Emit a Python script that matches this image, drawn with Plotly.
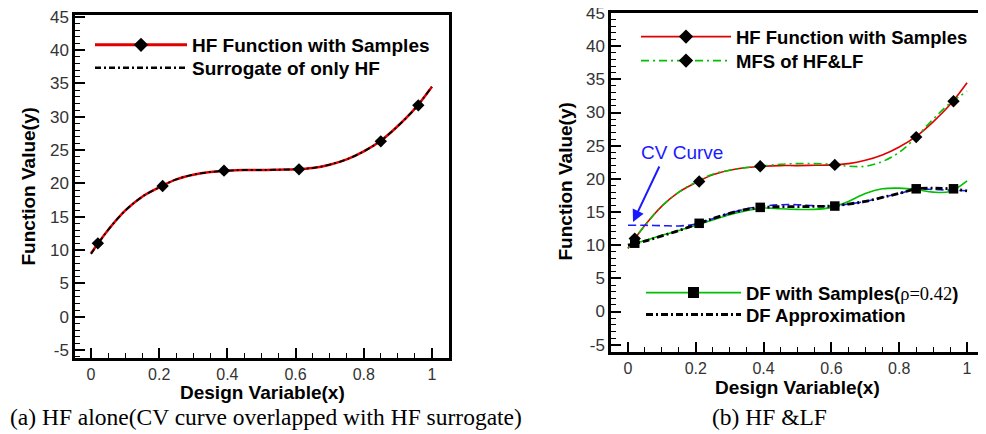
import plotly.graph_objects as go

# ---------------- data ----------------
x_curve = [0, 0.05, 0.1, 0.15, 0.2, 0.25, 0.3, 0.35, 0.4, 0.45, 0.5, 0.55, 0.6,
           0.65, 0.7, 0.75, 0.8, 0.85, 0.9, 0.95, 1.0]
hf_curve = [9.5, 13.0, 15.9, 18.0, 19.4, 20.6, 21.3, 21.7, 21.9, 22.0, 22.0, 22.05, 22.1,
            22.3, 22.8, 23.6, 24.8, 26.4, 28.6, 31.2, 34.5]
hf_surrogate = [9.4, 13.0, 15.9, 18.0, 19.4, 20.6, 21.3, 21.7, 21.9, 22.0, 22.0, 22.05, 22.1,
                22.3, 22.8, 23.6, 24.8, 26.4, 28.6, 31.2, 34.5]
mfs_curve = [9.6, 13.0, 15.9, 18.0, 19.5, 20.7, 21.3, 21.7, 21.95, 22.2, 22.3, 22.3, 22.2,
             21.9, 21.9, 22.6, 24.0, 26.3, 29.0, 31.4, 33.2]
df_curve = [10.0, 10.7, 11.5, 12.2, 13.0, 13.8, 14.6, 15.2, 15.6, 15.5, 15.4, 15.4, 15.7,
            16.6, 17.8, 18.5, 18.6, 18.4, 18.0, 18.1, 19.7]
df_approx = [10.0, 10.6, 11.4, 12.2, 13.1, 14.0, 14.8, 15.4, 15.7, 15.8, 15.8, 15.85, 15.9,
             16.2, 16.6, 17.2, 17.8, 18.5, 18.6, 18.5, 18.2]
cv_curve = [13.0, 13.0, 12.95, 12.9, 13.2, 14.0, 14.8, 15.5, 15.9, 16.1, 16.1, 15.95, 15.9,
            16.2, 16.6, 17.2, 17.8, 18.4, 18.4, 18.3, 18.2]

x_samples = [0.02, 0.21, 0.39, 0.61, 0.85, 0.96]
hf_samples = [11.0, 19.6, 21.9, 22.1, 26.3, 31.7]
df_samples = [10.3, 13.3, 15.7, 15.9, 18.5, 18.5]

x_ticks = [0, 0.2, 0.4, 0.6, 0.8, 1]
x_ticktext = ["0", "0.2", "0.4", "0.6", "0.8", "1"]
y_ticks = [-5, 0, 5, 10, 15, 20, 25, 30, 35, 40, 45]
y_ticktext = ["-5", "0", "5", "10", "15", "20", "25", "30", "35", "40", "45"]

# ---------------- styles ----------------
SANS = "Liberation Sans, Arial, sans-serif"
SERIF = "Liberation Serif, Times New Roman, serif"
RED = "#e00000"
GREEN = "#00c000"
BLUE = "#1a1aff"
DASHDOT = "6px,3px,2px,3px"
GDASHDOT = "8px,4px,2px,4px"
KDASHDOT = "7px,3px,2px,3px"

# page offset (body margin) compensation
OFF = 8
W, H = 986 - OFF, 434 - OFF
def px_x(p):
    return (p - OFF) / W
def px_y(p):
    return 1 - (p - OFF) / H

fig = go.Figure()

def add(x, y, xa, ya, name=None, legend=None, **kw):
    fig.add_trace(go.Scatter(x=x, y=y, xaxis=xa, yaxis=ya, name=name,
                             showlegend=legend is not None,
                             legend=legend if legend else "legend", **kw))

diamond = dict(symbol="diamond", size=9.5, color="black")
square = dict(symbol="square", size=9.5, color="black")
diamond_leg = dict(symbol="diamond", size=11, color="black")
square_leg = dict(symbol="square", size=11, color="black")

# ---- left panel ----
add(x_curve, hf_curve, "x", "y", mode="lines", line=dict(color=RED, width=2.5, shape="spline"))
add(x_curve, hf_surrogate, "x", "y", mode="lines",
    line=dict(color="black", width=1.8, dash=DASHDOT, shape="spline"))
add(x_samples, hf_samples, "x", "y", mode="markers", marker=diamond)
add([None], [None], "x", "y", name="<b>HF Function with Samples</b>", legend="legend",
    mode="lines+markers", line=dict(color=RED, width=3), marker=diamond_leg)
add([None], [None], "x", "y", name="<b>Surrogate of only HF</b>", legend="legend2",
    mode="lines", line=dict(color="black", width=2.5, dash=DASHDOT))

# ---- right panel ----
add(x_curve, hf_curve, "x2", "y2", mode="lines", line=dict(color=RED, width=1.6, shape="spline"))
add(x_curve, mfs_curve, "x2", "y2", mode="lines",
    line=dict(color=GREEN, width=1.6, dash=GDASHDOT, shape="spline"))
add(x_curve, df_curve, "x2", "y2", mode="lines", line=dict(color=GREEN, width=1.6, shape="spline"))
add(x_curve, cv_curve, "x2", "y2", mode="lines",
    line=dict(color=BLUE, width=1.6, dash="8px,4px", shape="spline"))
add(x_curve, df_approx, "x2", "y2", mode="lines",
    line=dict(color="black", width=2.8, dash=KDASHDOT, shape="spline"))
add(x_samples, hf_samples, "x2", "y2", mode="markers", marker=diamond)
add(x_samples, df_samples, "x2", "y2", mode="markers", marker=square)

add([None], [None], "x2", "y2", name="<b>HF Function with Samples</b>", legend="legend3",
    mode="lines+markers", line=dict(color=RED, width=1.8), marker=diamond_leg)
add([None], [None], "x2", "y2", name="<b>MFS of HF&LF</b>", legend="legend4",
    mode="lines+markers", line=dict(color=GREEN, width=1.8, dash=GDASHDOT), marker=diamond_leg)
add([None], [None], "x2", "y2",
    name="<b>DF with Samples(</b><span style='font-family:Liberation Serif'>ρ=0.42</span><b>)</b>",
    legend="legend5", mode="lines+markers", line=dict(color=GREEN, width=1.8), marker=square_leg)
add([None], [None], "x2", "y2", name="<b>DF Approximation</b>", legend="legend6",
    mode="lines", line=dict(color="black", width=3, dash=KDASHDOT))

# ---------------- axes ----------------
def xaxis(domain, rng, anchor):
    return dict(domain=domain, range=rng, anchor=anchor, automargin=False,
                tickmode="array", tickvals=x_ticks, ticktext=x_ticktext,
                ticks="inside", ticklen=10, tickwidth=1.5, tickcolor="black",
                ticklabeloverflow="allow",
                minor=dict(tickmode="linear", tick0=0, dtick=0.05, ticks="inside",
                           ticklen=5, tickwidth=1.2, tickcolor="black", showgrid=False),
                showline=True, linewidth=2.5, linecolor="black", mirror=True,
                showgrid=False, zeroline=False,
                tickfont=dict(family=SANS, size=16, color="#333"))

def yaxis(domain, rng, anchor):
    return dict(domain=domain, range=rng, anchor=anchor, automargin=False,
                tickmode="array", tickvals=y_ticks, ticktext=y_ticktext,
                ticks="inside", ticklen=10, tickwidth=1.5, tickcolor="black",
                ticklabeloverflow="allow",
                minor=dict(tickmode="linear", tick0=0, dtick=1, ticks="inside",
                           ticklen=5, tickwidth=1.2, tickcolor="black", showgrid=False),
                showline=True, linewidth=2.5, linecolor="black", mirror=True,
                showgrid=False, zeroline=False,
                tickfont=dict(family=SANS, size=17, color="#333"))

def leg(xp, yp, iw, size):
    return dict(x=px_x(xp), y=px_y(yp), xanchor="left", yanchor="middle", itemwidth=iw,
                font=dict(family=SANS, size=size, color="black"),
                bgcolor="rgba(0,0,0,0)", tracegroupgap=0)

title_font = dict(family=SANS, size=19, color="black")
cap_font = dict(family=SERIF, size=23.5, color="black")

fig.update_layout(
    width=W, height=H, margin=dict(l=0, r=0, t=0, b=0, autoexpand=False),
    paper_bgcolor="white", plot_bgcolor="white",
    xaxis=xaxis([px_x(75), px_x(449)], [-0.047, 1.050], "y"),
    yaxis=yaxis([px_y(358), px_y(15)], [-6.2, 45.25], "x"),
    xaxis2=xaxis([px_x(611), px_x(983)], [-0.050, 1.047], "y2"),
    yaxis2=yaxis([px_y(352), px_y(13)], [-6.1, 45.0], "x2"),
    legend=leg(90, 45, 92, 19),
    legend2=leg(90, 68, 92, 19),
    legend3=leg(636, 37, 90, 18.5),
    legend4=leg(636, 61, 90, 18.5),
    legend5=leg(641, 293, 95, 18.5),
    legend6=leg(641, 315, 95, 18.5),
    annotations=[
        dict(x=0.015, y=13.5, xref="x2", yref="y2", text="", showarrow=True,
             ax=27, ay=-57, arrowhead=2, arrowsize=1.2, arrowwidth=2, arrowcolor=BLUE),
        dict(x=0.16, y=23.9, xref="x2", yref="y2", text="CV Curve", showarrow=False,
             font=dict(family=SANS, size=19, color=BLUE)),
        # axis titles
        dict(x=px_x(262), y=px_y(392), xref="paper", yref="paper", xanchor="center", yanchor="middle",
             text="<b>Design Variable(x)</b>", showarrow=False, font=title_font),
        dict(x=px_x(797), y=px_y(387), xref="paper", yref="paper", xanchor="center", yanchor="middle",
             text="<b>Design Variable(x)</b>", showarrow=False, font=title_font),
        dict(x=px_x(28.5), y=px_y(187), xref="paper", yref="paper", xanchor="center", yanchor="middle",
             text="<b>Function Value(y)</b>", showarrow=False, textangle=-90, font=title_font),
        dict(x=px_x(564.5), y=px_y(182), xref="paper", yref="paper", xanchor="center", yanchor="middle",
             text="<b>Function Value(y)</b>", showarrow=False, textangle=-90, font=title_font),
        # captions
        dict(x=0, y=px_y(417), xref="paper", yref="paper", xanchor="left", yanchor="middle",
             text="(a) HF alone(CV curve overlapped with HF surrogate)", showarrow=False,
             font=cap_font),
        dict(x=px_x(710), y=px_y(417), xref="paper", yref="paper", xanchor="left", yanchor="middle",
             text="(b) HF &LF", showarrow=False, font=cap_font),
    ],
)

fig.write_html("out.html")
